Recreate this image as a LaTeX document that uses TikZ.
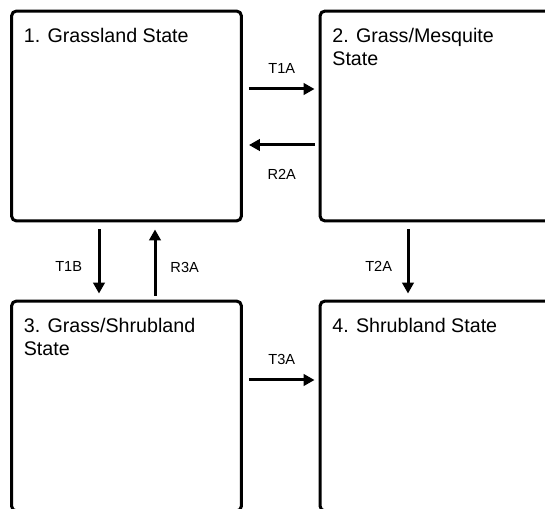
\documentclass[tikz,border=0pt]{standalone}
\usepackage{fontspec}
\setmainfont{Liberation Sans}
\usepackage{tikz}
\usetikzlibrary{arrows.meta,positioning,calc}

\begin{document}
\begin{tikzpicture}[
  x=0.02cm, y=-0.02cm,
  every node/.style={align=left},
  statebox/.style={draw=black,line width=0.06cm,rounded corners=0.1cm,
               minimum width=4.6cm,minimum height=4.2cm,inner sep=0pt},
  statetxt/.style={anchor=north west,inner sep=0pt,
               font=\fontsize{11.2}{13.4}\selectfont},
  lbl/.style={inner sep=0pt,font=\fontsize{8.3}{10}\selectfont},
  arr/.style={-{Triangle[length=0.22cm,width=0.23cm]},line width=0.06cm}
]
\clip (0,0) rectangle (545,509);

% TOP ROW
\node[statebox] (s1) at (126.5,116) {};
\node[statebox] (s2) at (435,116) {};
\node[statetxt] (n1) at ($(s1.north west)+(13.5,18)$) {1. Grassland State};
\node[statetxt] (n2) at ($(s2.north west)+(13.5,18)$) {2. Grass/Mesquite\\State};

% BOTTOM ROW
\node[statebox] (s3) at (126.5,406) {};
\node[statebox] (s4) at (435,406) {};
\node[statetxt] (n3) at ($(s3.north west)+(13.5,18)$) {3. Grass/Shrubland\\State};
\node[statetxt] (n4) at ($(s4.north west)+(13.5,18)$) {4. Shrubland State};

% Transitions
\draw[arr] ($(s1.east)+(6,-27)$) -- ($(s2.west)+(-4,-27)$)
  node[midway,lbl,above=0.285cm] (l1) {T1A};
\draw[arr] ($(s2.west)+(-4,29)$) -- ($(s1.east)+(6,29)$)
  node[midway,lbl,below=0.455cm] (l2) {R2A};
\draw[arr] ($(s1.south)+(-27.5,7)$) -- ($(s3.north)+(-27.5,-6)$)
  node[pos=0.58,lbl,left=0.31cm] (l3) {T1B};
\draw[arr] ($(s3.north)+(28.5,-4)$) -- ($(s1.south)+(28.5,7)$)
  node[pos=0.42,lbl,right=0.28cm] (l4) {R3A};
\draw[arr] ($(s2.south)+(-27,7)$) -- ($(s4.north)+(-27,-6)$)
  node[pos=0.58,lbl,left=0.29cm] (l5) {T2A};
\draw[arr] ($(s3.east)+(6,-26)$) -- ($(s4.west)+(-4,-26)$)
  node[midway,lbl,above=0.285cm] (l6) {T3A};
\end{tikzpicture}
\end{document}
